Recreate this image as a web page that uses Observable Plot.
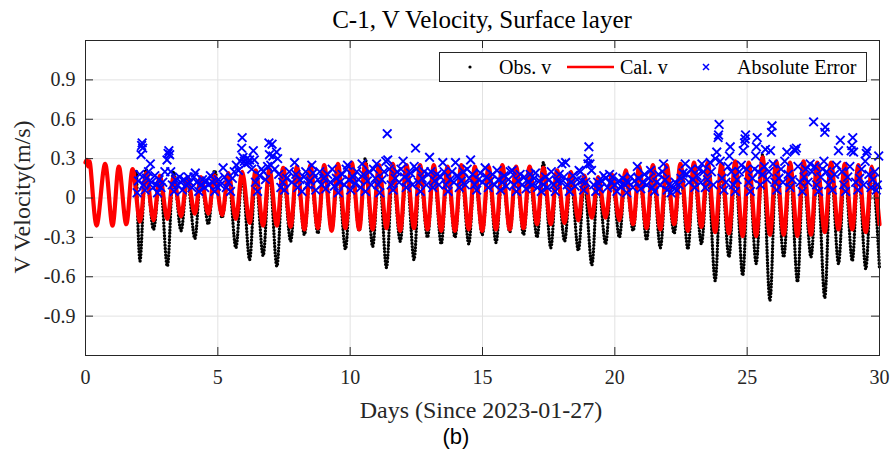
<!DOCTYPE html>
<html><head><meta charset="utf-8">
<script src="https://cdn.jsdelivr.net/npm/d3@7"></script>
<script src="https://cdn.jsdelivr.net/npm/@observablehq/plot@0.6"></script>
<style>
body{margin:0;background:#fff;}
#wrap{width:895px;height:465px;}
</style></head><body><div id="wrap"></div>
<script>
// ---- data ----
const xTicks = [0, 5, 10, 15, 20, 25, 30];
const yTicks = [-0.9, -0.6, -0.3, 0, 0.3, 0.6, 0.9];

// Calculated v: extrema (day, m/s)
const calDays = [0, 0.05, 0.10, 0.15, 0.42,
  0.74, 1.02, 1.26, 1.54, 1.78, 2.06, 2.29, 2.57, 2.81, 3.09, 3.33, 3.61, 3.85, 4.13, 4.36, 4.64,
  4.88, 5.16, 5.40, 5.68, 5.92, 6.20, 6.43, 6.71, 6.95, 7.23, 7.47, 7.75, 7.99, 8.27, 8.50, 8.78,
  9.02, 9.30, 9.54, 9.82, 10.06, 10.34, 10.57, 10.85, 11.09, 11.37, 11.61, 11.89, 12.13, 12.41,
  12.64, 12.92, 13.16, 13.44, 13.68, 13.96, 14.20, 14.48, 14.71, 14.99, 15.23, 15.51, 15.75, 16.03,
  16.27, 16.55, 16.78, 17.06, 17.30, 17.58, 17.82, 18.10, 18.34, 18.62, 18.85, 19.13, 19.37, 19.65,
  19.89, 20.17, 20.41, 20.69, 20.92, 21.20, 21.44, 21.72, 21.96, 22.24, 22.48, 22.76, 22.99, 23.27,
  23.51, 23.79, 24.03, 24.31, 24.55, 24.83, 25.06, 25.34, 25.58, 25.86, 26.10, 26.38, 26.62, 26.90,
  27.13, 27.41, 27.65, 27.93, 28.17, 28.45, 28.69, 28.97, 29.20, 29.48, 29.72, 30.0];
const calVals = [0.27, 0.29, 0.24, 0.28, -0.21,
  0.26, -0.21, 0.24, -0.20, 0.22, -0.18, 0.19, -0.17, 0.17, -0.16, 0.16, -0.14, 0.16, -0.12, 0.16, -0.12,
  0.17, -0.13, 0.19, -0.16, 0.20, -0.19, 0.21, -0.21, 0.22, -0.21, 0.23, -0.22, 0.24, -0.24, 0.25, -0.23,
  0.25, -0.25, 0.26, -0.23, 0.27, -0.24, 0.26, -0.24, 0.25, -0.23, 0.26, -0.25, 0.25, -0.23,
  0.25, -0.24, 0.25, -0.25, 0.24, -0.25, 0.25, -0.24, 0.24, -0.25, 0.24, -0.24, 0.25, -0.24,
  0.24, -0.23, 0.24, -0.20, 0.23, -0.20, 0.21, -0.19, 0.20, -0.17, 0.17, -0.15, 0.16, -0.15,
  0.18, -0.17, 0.21, -0.20, 0.24, -0.23, 0.25, -0.24, 0.25, -0.20, 0.26, -0.25, 0.27, -0.22,
  0.27, -0.26, 0.26, -0.27, 0.28, -0.29, 0.27, -0.29, 0.31, -0.28, 0.28, -0.28, 0.27, -0.29,
  0.28, -0.28, 0.27, -0.26, 0.27, -0.24, 0.26, -0.24, 0.25, -0.26, 0.24, -0.20];

// Observed v: extrema (day, m/s)
const obsDays = [1.93,
  2.06, 2.29, 2.57, 2.81, 3.09, 3.33, 3.61, 3.85, 4.13, 4.36, 4.64, 4.88, 5.16, 5.40, 5.68, 5.92,
  6.20, 6.43, 6.71, 6.95, 7.23, 7.47, 7.75, 7.99, 8.27, 8.50, 8.78, 9.02, 9.30, 9.54, 9.82, 10.06,
  10.34, 10.57, 10.85, 11.09, 11.37, 11.61, 11.89, 12.13, 12.41, 12.64, 12.92, 13.16, 13.44, 13.68,
  13.96, 14.20, 14.48, 14.71, 14.99, 15.23, 15.51, 15.75, 16.03, 16.27, 16.55, 16.78, 17.06, 17.30,
  17.58, 17.82, 18.10, 18.34, 18.62, 18.85, 19.13, 19.37, 19.65, 19.89, 20.17, 20.41, 20.69, 20.92,
  21.20, 21.44, 21.72, 21.96, 22.24, 22.48, 22.76, 22.99, 23.27, 23.51, 23.79, 24.03, 24.31, 24.55,
  24.83, 25.06, 25.34, 25.58, 25.86, 26.10, 26.38, 26.62, 26.90, 27.13, 27.41, 27.65, 27.93, 28.17,
  28.45, 28.69, 28.97, 29.20, 29.48, 29.72, 30.0];
const obsVals = [0.20,
  -0.48, 0.22, -0.24, 0.15, -0.52, 0.20, -0.25, 0.14, -0.31, 0.15, -0.20, 0.21, -0.15, 0.16, -0.38, 0.17,
  -0.47, 0.18, -0.44, 0.20, -0.52, 0.20, -0.33, 0.22, -0.28, 0.20, -0.27, 0.22, -0.25, 0.20, -0.39, 0.24,
  -0.25, 0.30, -0.37, 0.22, -0.53, 0.20, -0.33, 0.22, -0.47, 0.20, -0.30, 0.22, -0.35, 0.21,
  -0.30, 0.20, -0.35, 0.19, -0.28, 0.20, -0.34, 0.18, -0.26, 0.20, -0.28, 0.18, -0.30, 0.27,
  -0.38, 0.20, -0.33, 0.15, -0.40, 0.12, -0.51, 0.15, -0.35, 0.17, -0.30, 0.18, -0.25, 0.20,
  -0.32, 0.20, -0.38, 0.18, -0.27, 0.20, -0.39, 0.22, -0.35, 0.20, -0.63, 0.22, -0.45, 0.22,
  -0.59, 0.25, -0.50, 0.33, -0.78, 0.22, -0.45, 0.22, -0.64, 0.20, -0.45, 0.22, -0.76, 0.25,
  -0.50, 0.22, -0.48, 0.25, -0.54, 0.22, -0.54];

// Absolute error points [day, m/s]
const errorPoints = [
[1.95,0.04],[2.0,0.13],[2.05,0.18],[2.1,0.33],[2.12,0.40],[2.14,0.42],[2.16,0.38],[2.2,0.10],[2.25,0.06],[2.3,0.15],
[2.38,0.20],[2.45,0.26],[2.5,0.12],[2.55,0.08],[2.62,0.17],[2.68,0.10],[2.72,0.04],[2.78,0.14],[2.85,0.08],[2.92,0.12],
[3.0,0.20],[3.08,0.29],[3.12,0.34],[3.15,0.36],[3.18,0.33],[3.22,0.20],[3.28,0.10],[3.35,0.05],[3.4,0.14],[3.48,0.10],
[3.55,0.16],[3.6,0.12],[3.66,0.06],[3.72,0.14],[3.8,0.10],[3.88,0.16],[3.95,0.12],[4.02,0.08],[4.1,0.16],[4.15,0.19],
[4.2,0.12],[4.28,0.05],[4.35,0.10],[4.42,0.14],[4.5,0.08],[4.58,0.13],[4.65,0.10],[4.72,0.17],[4.8,0.12],[4.88,0.05],
[4.95,0.09],[5.02,0.14],[5.1,0.10],[5.2,0.23],[5.25,0.16],[5.32,0.08],[5.4,0.12],[5.48,0.05],[5.55,0.15],[5.62,0.20],
[5.7,0.25],[5.78,0.21],[5.85,0.28],[5.9,0.38],[5.92,0.46],[5.95,0.31],[6.0,0.28],[6.05,0.26],[6.1,0.30],[6.15,0.27],
[6.2,0.29],[6.28,0.22],[6.34,0.36],[6.38,0.29],[6.42,0.12],[6.5,0.05],[6.58,0.17],[6.65,0.22],[6.72,0.20],[6.8,0.14],
[6.88,0.24],[6.93,0.42],[6.95,0.33],[7.0,0.25],[7.05,0.41],[7.08,0.32],[7.15,0.22],[7.22,0.35],[7.26,0.30],[7.3,0.18],
[7.38,0.08],[7.45,0.12],[7.52,0.06],[7.6,0.15],[7.7,0.20],[7.8,0.12],[7.9,0.27],[7.95,0.18],[8.02,0.08],[8.1,0.14],
[8.18,0.05],[8.25,0.16],[8.32,0.20],[8.4,0.10],[8.48,0.13],[8.55,0.25],[8.6,0.19],[8.7,0.06],[8.78,0.14],[8.85,0.20],
[8.92,0.10],[9.0,0.15],[9.08,0.07],[9.15,0.18],[9.25,0.12],[9.32,0.22],[9.4,0.09],[9.48,0.15],[9.55,0.04],[9.62,0.12],
[9.7,0.18],[9.78,0.10],[9.85,0.22],[9.9,0.25],[9.95,0.14],[10.02,0.06],[10.1,0.16],[10.18,0.11],[10.25,0.20],[10.32,0.14],
[10.4,0.08],[10.45,0.26],[10.5,0.18],[10.58,0.05],[10.65,0.13],[10.72,0.20],[10.8,0.10],[10.88,0.22],[10.95,0.15],[11.0,0.26],
[11.05,0.10],[11.12,0.04],[11.2,0.14],[11.28,0.20],[11.35,0.28],[11.4,0.49],[11.42,0.29],[11.48,0.22],[11.55,0.10],[11.62,0.06],
[11.7,0.15],[11.78,0.20],[11.85,0.12],[11.92,0.22],[12.0,0.28],[12.05,0.16],[12.12,0.08],[12.2,0.14],[12.28,0.19],[12.35,0.10],
[12.42,0.24],[12.47,0.38],[12.5,0.22],[12.58,0.12],[12.65,0.05],[12.72,0.15],[12.8,0.20],[12.88,0.10],[12.95,0.18],[13.0,0.31],
[13.05,0.20],[13.12,0.08],[13.2,0.13],[13.28,0.18],[13.35,0.10],[13.42,0.16],[13.5,0.27],[13.55,0.20],[13.62,0.10],[13.7,0.05],
[13.78,0.14],[13.85,0.20],[13.92,0.12],[13.98,0.27],[14.05,0.17],[14.12,0.08],[14.2,0.13],[14.28,0.20],[14.35,0.10],[14.42,0.22],
[14.5,0.15],[14.55,0.29],[14.62,0.18],[14.7,0.10],[14.78,0.06],[14.85,0.14],[14.92,0.19],[15.0,0.12],[15.1,0.23],[15.15,0.16],
[15.22,0.08],[15.3,0.13],[15.38,0.18],[15.45,0.10],[15.55,0.21],[15.6,0.14],[15.68,0.06],[15.75,0.12],[15.82,0.17],[15.9,0.09],
[15.98,0.14],[16.05,0.20],[16.12,0.21],[16.2,0.10],[16.28,0.05],[16.35,0.13],[16.42,0.18],[16.5,0.10],[16.58,0.16],[16.65,0.07],
[16.72,0.12],[16.8,0.18],[16.88,0.10],[16.95,0.15],[17.0,0.19],[17.08,0.08],[17.15,0.13],[17.22,0.05],[17.3,0.10],[17.38,0.16],
[17.45,0.08],[17.52,0.14],[17.6,0.20],[17.68,0.10],[17.75,0.05],[17.82,0.13],[17.9,0.18],[17.98,0.12],[18.0,0.26],[18.08,0.16],
[18.14,0.27],[18.2,0.10],[18.28,0.05],[18.35,0.12],[18.42,0.17],[18.5,0.09],[18.58,0.14],[18.65,0.21],[18.7,0.20],[18.75,0.13],
[18.82,0.06],[18.9,0.12],[18.98,0.26],[19.0,0.30],[19.02,0.39],[19.06,0.26],[19.12,0.21],[19.2,0.10],[19.28,0.05],[19.35,0.12],
[19.42,0.07],[19.5,0.13],[19.58,0.17],[19.65,0.15],[19.72,0.08],[19.8,0.18],[19.85,0.12],[19.92,0.16],[20.0,0.10],[20.08,0.05],
[20.15,0.13],[20.22,0.09],[20.3,0.15],[20.38,0.10],[20.45,0.04],[20.52,0.12],[20.6,0.16],[20.68,0.08],[20.75,0.13],[20.85,0.24],
[20.9,0.15],[20.98,0.07],[21.05,0.12],[21.12,0.18],[21.2,0.10],[21.28,0.15],[21.35,0.21],[21.42,0.08],[21.5,0.05],[21.58,0.12],
[21.65,0.18],[21.72,0.10],[21.8,0.20],[21.84,0.26],[21.9,0.14],[21.98,0.06],[22.05,0.10],[22.12,0.04],[22.2,0.08],[22.28,0.12],
[22.35,0.06],[22.42,0.10],[22.5,0.15],[22.58,0.19],[22.66,0.26],[22.72,0.18],[22.8,0.12],[22.88,0.22],[22.95,0.14],[23.02,0.08],
[23.1,0.17],[23.18,0.22],[23.25,0.12],[23.29,0.26],[23.35,0.20],[23.42,0.08],[23.5,0.14],[23.6,0.27],[23.65,0.20],[23.72,0.10],
[23.8,0.30],[23.85,0.35],[23.9,0.46],[23.92,0.48],[23.94,0.56],[23.98,0.28],[24.05,0.15],[24.12,0.06],[24.2,0.12],[24.28,0.24],
[24.33,0.32],[24.36,0.39],[24.4,0.20],[24.48,0.10],[24.55,0.05],[24.62,0.14],[24.7,0.20],[24.78,0.25],[24.85,0.36],[24.9,0.42],
[24.92,0.45],[24.94,0.48],[24.98,0.22],[25.05,0.12],[25.12,0.05],[25.2,0.15],[25.28,0.22],[25.32,0.32],[25.35,0.39],[25.38,0.46],
[25.42,0.20],[25.5,0.10],[25.58,0.18],[25.65,0.24],[25.69,0.37],[25.75,0.14],[25.82,0.20],[25.88,0.36],[25.92,0.50],[25.94,0.55],
[25.98,0.26],[26.05,0.12],[26.12,0.06],[26.2,0.15],[26.28,0.22],[26.35,0.12],[26.42,0.28],[26.5,0.35],[26.55,0.18],[26.62,0.08],
[26.7,0.14],[26.78,0.37],[26.82,0.36],[26.86,0.38],[26.92,0.24],[27.0,0.12],[27.08,0.05],[27.15,0.16],[27.22,0.22],[27.3,0.12],
[27.38,0.26],[27.45,0.20],[27.51,0.58],[27.55,0.24],[27.62,0.10],[27.7,0.05],[27.78,0.16],[27.85,0.22],[27.9,0.28],[27.93,0.50],
[27.95,0.54],[28.0,0.20],[28.08,0.10],[28.15,0.15],[28.22,0.06],[28.3,0.18],[28.38,0.25],[28.45,0.36],[28.52,0.44],[28.58,0.20],
[28.65,0.10],[28.72,0.05],[28.8,0.16],[28.88,0.24],[28.93,0.36],[28.96,0.40],[28.99,0.46],[29.02,0.35],[29.1,0.12],[29.18,0.06],
[29.25,0.15],[29.32,0.22],[29.4,0.10],[29.46,0.28],[29.5,0.34],[29.53,0.36],[29.6,0.18],[29.68,0.08],[29.75,0.14],[29.82,0.20],
[29.88,0.06],[29.92,0.10],[29.97,0.32]];

// ---- build tables ----
const cal = d3.range(Math.min(calDays.length, calVals.length)).map(i => ({t: calDays[i], v: calVals[i]}));
const obs = d3.range(Math.min(obsDays.length, obsVals.length)).map(i => ({t: obsDays[i], v: obsVals[i]}));
const err = errorPoints.map(([t, v]) => ({t, v}));

const W = 895, H = 465, mL = 85, mR = 16, mT = 40, mB = 110;
const pw = W - mL - mR, ph = H - mT - mB, tk = 8;
const axisColor = "#262626";
const gridColor = "#e2e2e2";
const serif = "'Liberation Serif', 'Times New Roman', Times, serif";

const chart = Plot.plot({
  width: W, height: H,
  marginLeft: mL, marginRight: mR, marginTop: mT, marginBottom: mB,
  x: {domain: [0, 30], label: null},
  y: {domain: [-1.2, 1.2], label: null},
  style: {color: axisColor, background: "white"},
  marks: [
    Plot.gridX(xTicks, {stroke: gridColor, strokeOpacity: 1, strokeWidth: 1}),
    Plot.gridY(yTicks, {stroke: gridColor, strokeOpacity: 1, strokeWidth: 1}),
    Plot.line(obs, {x: "t", y: "v", curve: "catmull-rom", stroke: "black", strokeWidth: 3.4, strokeDasharray: "0,3.2", strokeLinecap: "round"}),
    Plot.line(cal, {x: "t", y: "v", curve: "catmull-rom", stroke: "#ff0000", strokeWidth: 4.2}),
    Plot.dot(err, {x: "t", y: "v", symbol: "times", r: 4, stroke: "#0000ff", strokeWidth: 1.9}),
    Plot.frame({stroke: axisColor, strokeWidth: 1}),
    Plot.tickX(xTicks, {x: d => d, insetTop: ph - tk, stroke: axisColor}),
    Plot.tickX(xTicks, {x: d => d, insetBottom: ph - tk, stroke: axisColor}),
    Plot.tickY(yTicks, {y: d => d, insetRight: pw - tk, stroke: axisColor}),
    Plot.tickY(yTicks, {y: d => d, insetLeft: pw - tk, stroke: axisColor}),
    Plot.axisX(xTicks, {anchor: "bottom", tickSize: 0, tickPadding: 14, label: null, tickFormat: d => String(d)}),
    Plot.axisY(yTicks, {anchor: "left", tickSize: 0, tickPadding: 10, label: null, tickFormat: d => d === 0 ? "0" : String(d)})
  ]
});
document.getElementById("wrap").appendChild(chart);

const svg = d3.select(chart);
// serif face and size for every Plot-generated text (the tick labels)
svg.attr("font-family", serif).attr("font-size", 20).style("font-family", serif).style("font-size", "20px");
svg.selectAll("g").each(function() {
  const g = d3.select(this);
  if (g.attr("font-family")) g.attr("font-family", serif);
  if (g.attr("font-size")) g.attr("font-size", 20);
});
svg.selectAll("text").attr("font-family", serif).attr("font-size", 20)
  .style("font-family", serif).style("font-size", "20px");

// ---- titles & legend ----
function txt(s, x, y, size, opts = {}) {
  const fam = opts.family || serif;
  const t = svg.append("text").attr("x", x).attr("y", y).text(s)
    .attr("font-family", fam).attr("font-size", size)
    .style("font-family", fam).style("font-size", size + "px")
    .attr("fill", opts.fill || axisColor).attr("text-anchor", opts.anchor || "middle");
  if (opts.transform) t.attr("transform", opts.transform);
  return t;
}
txt("C-1, V Velocity, Surface layer", 482, 28, 25, {fill: "#000"});
txt("Days (Since 2023-01-27)", 481, 418, 24);
txt("V Velocity(m/s)", 0, 0, 24, {transform: "translate(30,197) rotate(-90)"});
txt("(b)", 456, 444, 22, {family: "'Liberation Sans', Arial, sans-serif", fill: "#000"});

const lg = svg.append("g");
lg.append("rect").attr("x", 439.5).attr("y", 52.5).attr("width", 427).attr("height", 29)
  .attr("fill", "white").attr("stroke", axisColor).attr("stroke-width", 1);
lg.append("circle").attr("cx", 470).attr("cy", 67).attr("r", 1.6).attr("fill", "black");
lg.append("line").attr("x1", 567).attr("x2", 614).attr("y1", 67).attr("y2", 67).attr("stroke", "#ff0000").attr("stroke-width", 2.5);
lg.append("path").attr("d", "M703,64L709,70M709,64L703,70").attr("stroke", "#0000ff").attr("stroke-width", 1.5);
txt("Obs. v", 499, 74, 20, {anchor: "start", fill: "#000"});
txt("Cal. v", 620, 74, 20, {anchor: "start", fill: "#000"});
txt("Absolute Error", 737, 74, 20, {anchor: "start", fill: "#000"});
</script></body></html>
